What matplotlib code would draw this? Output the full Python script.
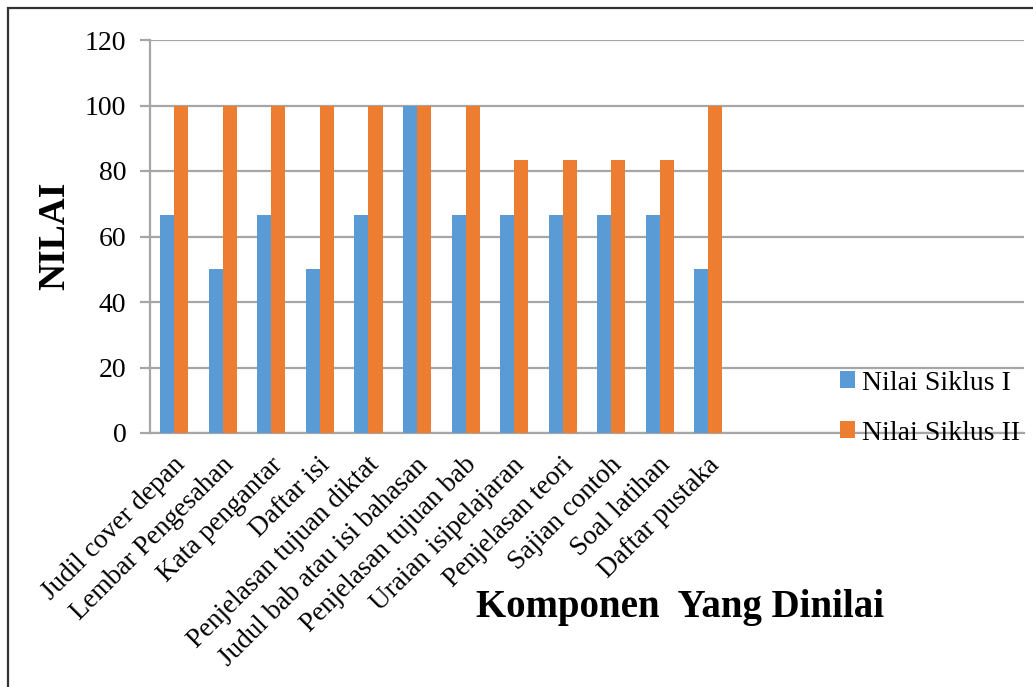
import matplotlib
matplotlib.use("Agg")
import matplotlib.pyplot as plt
import matplotlib.transforms as mtransforms
import numpy as np
from matplotlib.patches import Rectangle

categories = ["Judil cover depan", "Lembar Pengesahan", "Kata pengantar", "Daftar isi",
              "Penjelasan tujuan diktat", "Judul bab atau isi bahasan", "Penjelasan tujuan bab",
              "Uraian isipelajaran", "Penjelasan teori", "Sajian contoh", "Soal latihan",
              "Daftar pustaka"]
siklus1 = [66.7, 50, 66.7, 50, 66.7, 100, 66.7, 66.7, 66.7, 66.7, 66.7, 50]
siklus2 = [100, 100, 100, 100, 100, 100, 100, 83.3, 83.3, 83.3, 83.3, 100]
series_names = ["Nilai Siklus I", "Nilai Siklus II"]
yticks = [0, 20, 40, 60, 80, 100, 120]

plt.rcParams['font.family'] = ['Liberation Serif', 'DejaVu Serif']

W, H = 1033, 687
fig = plt.figure(figsize=(W / 100, H / 100), dpi=100)
ax = fig.add_axes([150 / W, 1 - 433 / H, (1024 - 150) / W, (433 - 40) / H])

x = np.arange(len(categories))
bw = 0.29
b1 = ax.bar(x - bw / 2, siklus1, bw, color='#5B9BD5', label=series_names[0], zorder=3)
b2 = ax.bar(x + bw / 2, siklus2, bw, color='#ED7D31', label=series_names[1], zorder=3)

ax.set_ylim(0, 120)
ax.set_xlim(-0.5, 17.5)
ax.set_yticks(yticks)
ax.set_yticklabels([str(v) for v in yticks], fontsize=20)
ax.yaxis.grid(True, color='#A6A6A6', linewidth=1.6, zorder=0)
ax.set_axisbelow(True)
for s in ['top', 'right']:
    ax.spines[s].set_visible(False)
ax.spines['left'].set_color('#A6A6A6')
ax.spines['left'].set_linewidth(1.6)
ax.spines['bottom'].set_color('#A6A6A6')
ax.spines['bottom'].set_linewidth(1.6)
ax.tick_params(axis='y', length=7, width=1.6, color='#A6A6A6', pad=10)
ax.tick_params(axis='x', length=0, pad=14)
ax.set_xticks(x)
ax.set_xticklabels(categories, rotation=45, ha='right', va='top',
                   rotation_mode='anchor', fontsize=19.5)
offset = mtransforms.ScaledTranslation(-0.02, 0, fig.dpi_scale_trans)
for lbl in ax.get_xticklabels():
    lbl.set_transform(lbl.get_transform() + offset)

fig.text(55 / W, 1 - 236 / H, "NILAI", rotation=90, fontsize=27, fontweight='bold',
         ha='center', va='center')
fig.text(680 / W, 1 - 607 / H, "Komponen  Yang Dinilai", fontsize=28, fontweight='bold',
         ha='center', va='center')

leg = fig.legend(handles=[b1, b2], labels=series_names, loc='center left',
                 bbox_to_anchor=(826 / W, 1 - 408 / H), frameon=False, fontsize=20,
                 handlelength=0.55, handleheight=0.55, handletextpad=0.25, labelspacing=0.9,
                 borderpad=0)

fig.add_artist(Rectangle((8 / W, -0.1), 1.2, (1 - 8 / H) + 0.1, transform=fig.transFigure,
                         fill=False, edgecolor='#333333', linewidth=1.6))

fig.savefig("out.png", dpi=100, facecolor='white')
